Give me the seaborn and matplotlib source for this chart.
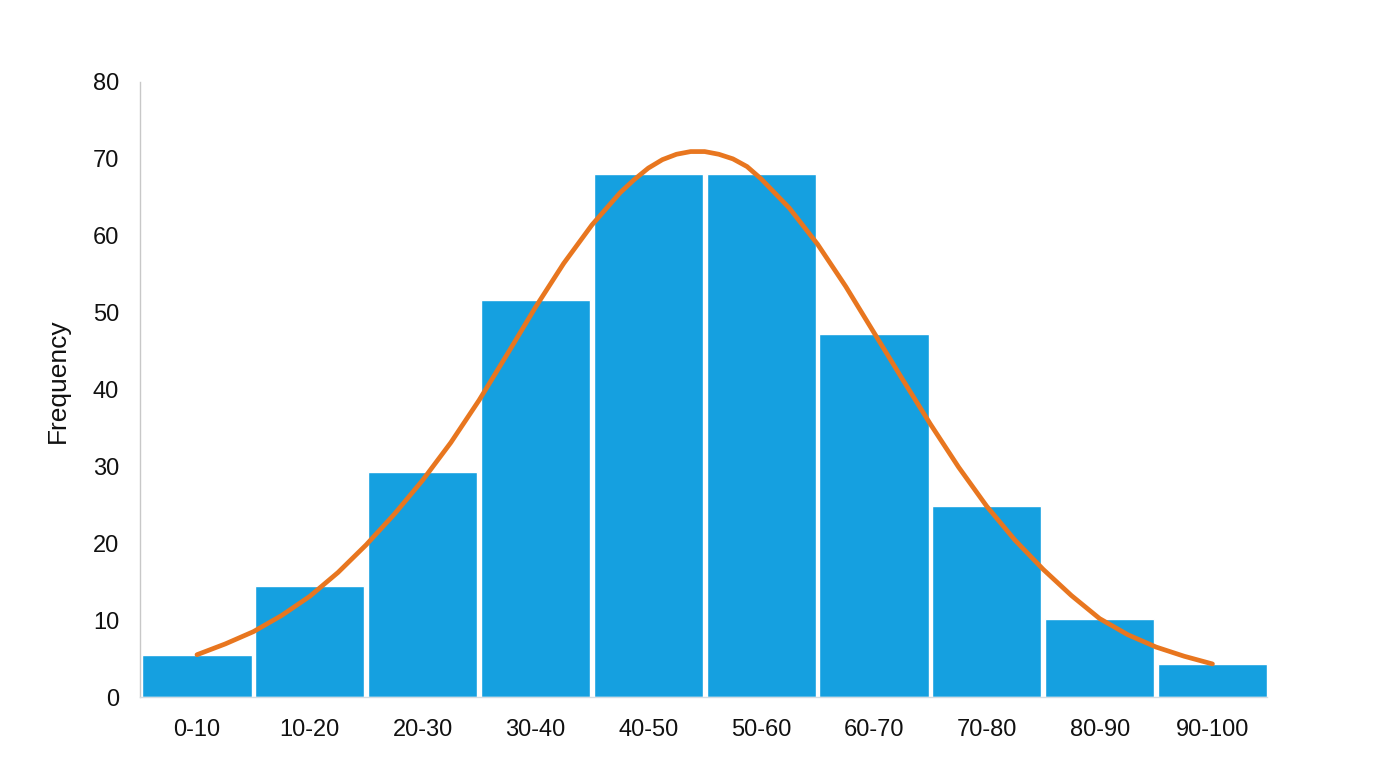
import matplotlib
matplotlib.use("Agg")
import matplotlib.pyplot as plt
import seaborn as sns
import pandas as pd

# ---- data ----
categories = ["0-10", "10-20", "20-30", "30-40", "40-50",
              "50-60", "60-70", "70-80", "80-90", "90-100"]
frequency = [5.5, 14.4, 29.3, 51.6, 68.0, 68.0, 47.2, 24.8, 10.1, 4.3]

# fitted curve, positions in category units (0 = first bin centre)
curve_pos = [0.00, 0.25, 0.50, 0.75, 1.00, 1.25, 1.50, 1.75, 2.00, 2.25,
             2.50, 2.75, 3.00, 3.25, 3.50, 3.75, 3.875, 4.00, 4.125, 4.25,
             4.375, 4.50, 4.625, 4.75, 4.875, 5.00, 5.25, 5.50, 5.75, 6.00,
             6.25, 6.50, 6.75, 7.00, 7.25, 7.50, 7.75, 8.00, 8.25, 8.50,
             8.75, 9.00]
curve_val = [5.5, 6.9, 8.5, 10.6, 13.1, 16.2, 19.8, 23.8, 28.2, 33.1,
             38.6, 44.6, 50.7, 56.4, 61.4, 65.6, 67.3, 68.8, 69.9, 70.6,
             70.95, 70.95, 70.6, 70.0, 69.0, 67.4, 63.6, 58.9, 53.4, 47.4,
             41.4, 35.5, 29.9, 24.8, 20.4, 16.6, 13.2, 10.2, 8.1, 6.5,
             5.3, 4.3]

y_ticks = [0, 10, 20, 30, 40, 50, 60, 70, 80]

bars_df = pd.DataFrame({"bin": categories, "freq": frequency})
curve_df = pd.DataFrame({"pos": curve_pos, "val": curve_val})

sns.set_theme(style="white")
plt.rcParams["font.family"] = ["Liberation Sans", "DejaVu Sans"]

fig = plt.figure(figsize=(13.76, 7.68), dpi=100)
ax = fig.add_axes([140 / 1376, 71 / 768, 1130 / 1376, 615 / 768])

sns.barplot(data=bars_df, x="bin", y="freq", order=categories,
            color="#15A0E0", saturation=1, width=0.968, ax=ax, zorder=2)
sns.lineplot(data=curve_df, x="pos", y="val", color="#E8761F",
             linewidth=3.4, ax=ax, zorder=3,
             solid_capstyle="round", solid_joinstyle="round")

ax.set_xlim(-0.505, 9.51)
ax.set_ylim(0, 80)
ax.set_yticks(y_ticks)
ax.set_xticks(range(len(categories)))
ax.set_xticklabels(categories)

ax.set_xlabel("")
ax.set_ylabel("Frequency", fontsize=19, color="#111111")
ax.yaxis.set_label_coords(-0.062, 0.515)

ax.tick_params(axis="y", length=0, pad=15, labelsize=17, labelcolor="#111111")
ax.tick_params(axis="x", length=0, pad=16, labelsize=17, labelcolor="#111111")

for side in ["top", "right"]:
    ax.spines[side].set_visible(False)
ax.spines["left"].set_color("#C8C8C8")
ax.spines["left"].set_linewidth(1.0)
ax.spines["bottom"].set_color("#D5DCE2")
ax.spines["bottom"].set_linewidth(1.0)
ax.spines["bottom"].set_bounds(-0.505, 9.484)
ax.grid(False)

fig.savefig("out.png", dpi=100, facecolor="white")
